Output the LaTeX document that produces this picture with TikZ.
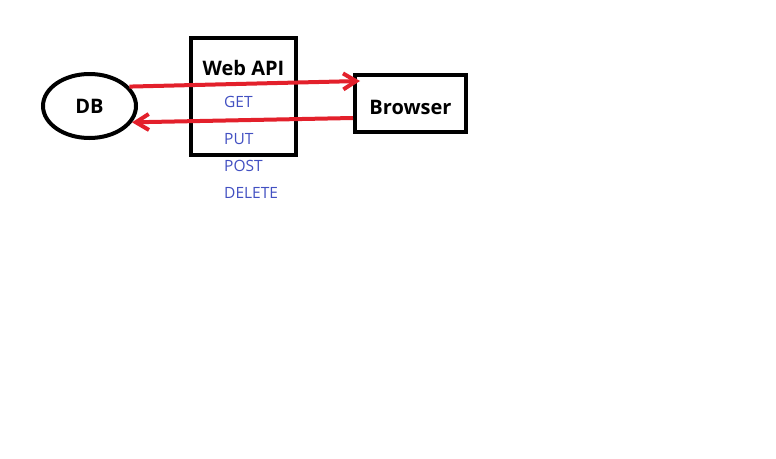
\documentclass[tikz,border=0pt]{standalone}
\usepackage{fontspec}
\setmainfont{Open Sans}
\usetikzlibrary{arrows.meta,shapes.geometric}
\definecolor{cred}{HTML}{E3202B}
\definecolor{cblue}{HTML}{4250C2}

\begin{document}
\begin{tikzpicture}[x=1pt,y=1pt,
  box/.style={draw,line width=4pt,inner sep=0pt},
  title/.style={font=\bfseries\fontsize{20}{24}\selectfont},
  flow/.style={cred,line width=4pt,-{Straight Barb[length=13pt,width=16pt]}},
  verb/.style={cblue,anchor=base west,inner sep=0pt,font=\fontsize{15.5}{18}\selectfont}]
  \useasboundingbox[fill=white] (0,0) rectangle (776,-458);
  % shapes
  \node[box,ellipse,minimum width=93pt,minimum height=64pt,title] (db) at (89.5,-106) {DB};
  \node[box,minimum width=105pt,minimum height=117pt] (api) at (243.5,-96.5) {};
  \node[box,minimum width=111pt,minimum height=57pt,title,
    text height=26pt,text depth=4pt] (browser) at (410.5,-103.5) {Browser};
  \node[title] (apilabel) at (243.5,-67.5) {Web API};
  % methods
  \node[verb] (get) at (224,-107.5) {GET};
  \node[verb] (put) at (224,-144) {PUT};
  \node[verb] (post) at (224,-171.5) {POST};
  \node[verb] (delete) at (224,-198.5) {DELETE};
  % arrows
  \draw[flow] (db.26) -- ([xshift=7pt,yshift=-8pt]browser.north west);
  \draw[flow] ([yshift=-45pt]browser.north west) -- (db.-21);
\end{tikzpicture}
\end{document}
